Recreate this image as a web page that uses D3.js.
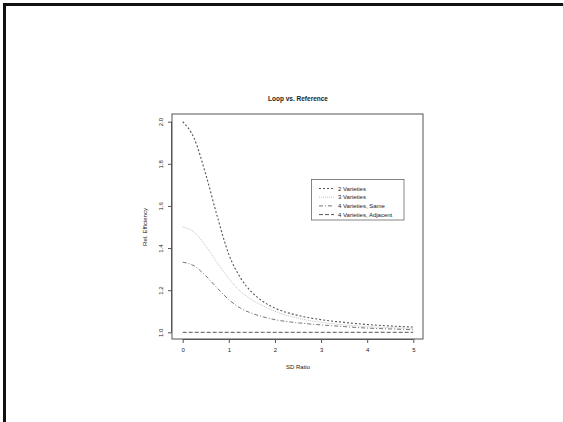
<!DOCTYPE html>
<html>
<head>
<script src="https://d3js.org/d3.v7.min.js"></script>
<style>
    body { margin: 0; background: #fff; }
    svg text { font-family: "Liberation Sans", Arial, sans-serif; fill: #222; }
</style>
</head>
<body>
<script>
    // sd ratio grid and curves
    var sdRatio = [0, 0.25, 0.5, 0.75, 1, 1.25, 1.5, 1.75, 2, 2.5, 3, 3.5, 4, 4.5, 5];
    var twoVar = [2.00, 1.92, 1.75, 1.55, 1.37, 1.26, 1.19, 1.145, 1.115, 1.080, 1.060, 1.047, 1.037, 1.030, 1.025];
    var threeVar = [1.50, 1.475, 1.41, 1.33, 1.255, 1.195, 1.155, 1.125, 1.100, 1.067, 1.047, 1.035, 1.027, 1.022, 1.018];
    var fourSame = [1.333, 1.315, 1.268, 1.21, 1.155, 1.115, 1.09, 1.073, 1.060, 1.045, 1.035, 1.027, 1.020, 1.016, 1.012];
    var fourAdj = [1, 1, 1, 1, 1, 1, 1, 1, 1, 1, 1, 1, 1, 1, 1];
    var seriesNames = ['2 Varieties', '3 Varieties', '4 Varieties, Same', '4 Varieties, Adjacent'];
    var xTicks = [0, 1, 2, 3, 4, 5];
    var yTicks = [1.0, 1.2, 1.4, 1.6, 1.8, 2.0];

    var styles = [
        { stroke: '#555', dash: '2,2', width: 1.1 },
        { stroke: '#bbb', dash: '1,1', width: 0.9 },
        { stroke: '#666', dash: '4,2,1,2', width: 0.9 },
        { stroke: '#555', dash: '4,2', width: 1 }
    ];

    var W = 564, H = 422;
    var box = { left: 172, right: 423, top: 114, bottom: 339 };

    var svg = d3.select('body').append('svg')
        .attr('width', W)
        .attr('height', H);

    // slide frame
    svg.append('rect').attr('x', 0).attr('y', 0).attr('width', W).attr('height', H).attr('fill', '#fff');
    svg.append('rect').attr('x', 3).attr('y', 3).attr('width', W - 3).attr('height', 3).attr('fill', '#111');
    svg.append('rect').attr('x', 3).attr('y', 3).attr('width', 3).attr('height', H - 3).attr('fill', '#111');
    svg.append('line').attr('x1', W - 0.5).attr('x2', W - 0.5).attr('y1', 3).attr('y2', H)
        .attr('stroke', '#ccc');

    var x = d3.scaleLinear().domain([0, 5]).range([182.7, 413.3]);
    var y = d3.scaleLinear().domain([1, 2]).range([332.3, 121.7]);

    // plot box
    svg.append('rect')
        .attr('x', box.left).attr('y', box.top)
        .attr('width', box.right - box.left).attr('height', box.bottom - box.top)
        .attr('fill', 'none').attr('stroke', '#555').attr('stroke-width', 1);

    var xAxis = d3.axisBottom(x).tickValues(xTicks).tickFormat(d3.format('d')).tickSize(4).tickPadding(5);
    var gx = svg.append('g')
        .attr('transform', 'translate(0,' + box.bottom + ')')
        .call(xAxis);

    var yAxis = d3.axisLeft(y).tickValues(yTicks).tickFormat(d3.format('.1f')).tickSize(4).tickPadding(0);
    var gy = svg.append('g')
        .attr('transform', 'translate(' + box.left + ',0)')
        .call(yAxis);

    [gx, gy].forEach(function (g) {
        g.select('.domain').remove();
        g.selectAll('line').attr('stroke', '#555');
        g.selectAll('text').style('font-size', '6px').attr('fill', '#333');
    });
    // R style axis lines between first and last tick
    svg.append('line').attr('x1', x(0)).attr('x2', x(5)).attr('y1', box.bottom + 0.5).attr('y2', box.bottom + 0.5)
        .attr('stroke', '#555');
    svg.append('line').attr('x1', box.left - 0.5).attr('x2', box.left - 0.5).attr('y1', y(1)).attr('y2', y(2))
        .attr('stroke', '#555');
    // rotated y tick labels (tick groups already sit at y(d))
    gy.selectAll('text')
        .attr('x', null).attr('y', null).attr('dy', null)
        .attr('text-anchor', 'middle')
        .attr('transform', 'translate(-9,0) rotate(-90)');

    var line = d3.line()
        .x(function (d) { return x(d[0]); })
        .y(function (d) { return y(d[1]); })
        .curve(d3.curveMonotoneX);

    [twoVar, threeVar, fourSame, fourAdj].forEach(function (vals, i) {
        var pts = sdRatio.map(function (r, k) { return [r, vals[k]]; });
        svg.append('path')
            .datum(pts)
            .attr('d', line)
            .attr('fill', 'none')
            .attr('stroke', styles[i].stroke)
            .attr('stroke-width', styles[i].width)
            .attr('stroke-dasharray', styles[i].dash);
    });

    // titles
    svg.append('text')
        .attr('x', 298).attr('y', 101)
        .attr('text-anchor', 'middle')
        .style('font-size', '6.5px').style('font-weight', 'bold')
        .text('Loop vs. Reference');
    svg.append('text')
        .attr('x', 298).attr('y', 369)
        .attr('text-anchor', 'middle')
        .style('font-size', '6px')
        .text('SD Ratio');
    svg.append('text')
        .attr('transform', 'translate(147,227) rotate(-90)')
        .attr('text-anchor', 'middle')
        .style('font-size', '6px')
        .text('Rel. Efficiency');

    // legend
    var legend = svg.append('g').attr('id', 'legend');
    legend.append('rect')
        .attr('x', 311.5).attr('y', 179.5).attr('width', 92.5).attr('height', 40.5)
        .attr('fill', '#fff').attr('stroke', '#666').attr('stroke-width', 0.8);
    seriesNames.forEach(function (name, i) {
        var ly = 188.5 + i * 8.7;
        legend.append('line')
            .attr('x1', 319).attr('x2', 334).attr('y1', ly).attr('y2', ly)
            .attr('stroke', styles[i].stroke)
            .attr('stroke-width', styles[i].width)
            .attr('stroke-dasharray', styles[i].dash);
        legend.append('text')
            .attr('x', 338).attr('y', ly + 2.2)
            .style('font-size', '6px')
            .text(name);
    });
</script>
</body>
</html>
